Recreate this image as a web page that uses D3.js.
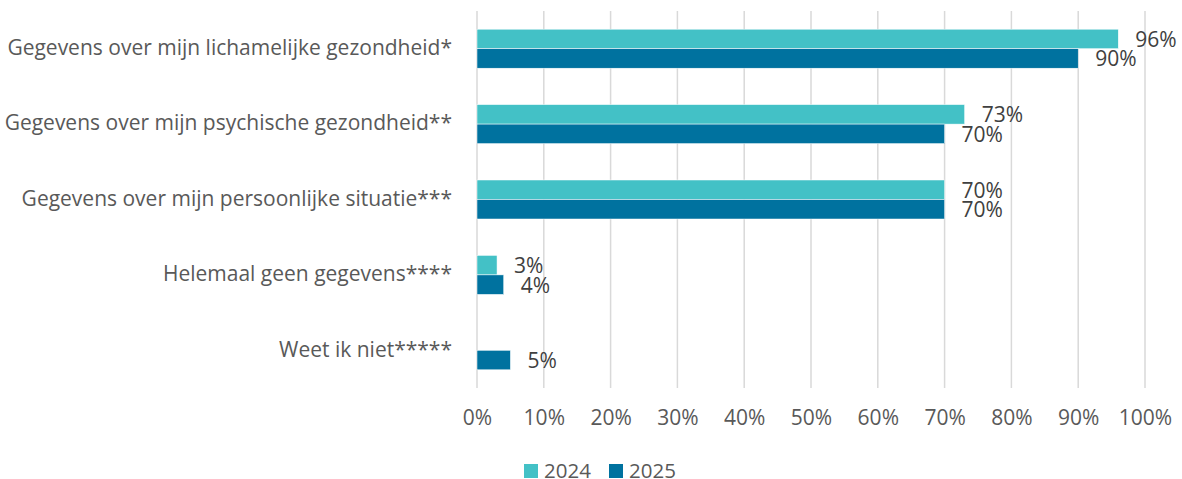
<!DOCTYPE html>
<html>
<head>
<meta charset="utf-8">
<script src="https://cdn.jsdelivr.net/npm/d3@7"></script>
<style>
  html, body { margin: 0; padding: 0; background: #fff; }
  svg { display: block; font-family: "Open Sans", sans-serif; }
</style>
</head>
<body>
<svg id="chart" width="1182" height="479"></svg>
<script>
// Categories (top to bottom) and values per year, in percent
const categories = [
  "Gegevens over mijn lichamelijke gezondheid*",
  "Gegevens over mijn psychische gezondheid**",
  "Gegevens over mijn persoonlijke situatie***",
  "Helemaal geen gegevens****",
  "Weet ik niet*****"
];
const values2024 = [96, 73, 70, 3, null];
const values2025 = [90, 70, 70, 4, 5];
const seriesNames = ["2024", "2025"];
const tickValues = [0, 10, 20, 30, 40, 50, 60, 70, 80, 90, 100];

const colors = { "2024": "#43C1C6", "2025": "#00729F" };
const textColor = "#595959";

const svg = d3.select("#chart");
const plot = { left: 477, right: 1145, top: 11, bottom: 388 };

const x = d3.scaleLinear().domain([0, 100]).range([plot.left, plot.right]);
const y = d3.scaleBand().domain(categories).range([plot.top, plot.bottom]);
const barH = 19.5;

// Vertical gridlines
svg.append("g").selectAll("line")
  .data(tickValues)
  .join("line")
  .attr("x1", d => x(d)).attr("x2", d => x(d))
  .attr("y1", plot.top).attr("y2", plot.bottom)
  .attr("stroke", "#d9d9d9").attr("stroke-width", 1.5);

// X axis tick labels
const xAxis = d3.axisBottom(x).tickValues(tickValues).tickFormat(d => d + "%").tickSize(0).tickPadding(0);
const gx = svg.append("g").attr("transform", `translate(0, 418)`).call(xAxis);
gx.select(".domain").remove();
gx.selectAll("text")
  .attr("font-size", "21px").attr("fill", textColor)
  .attr("font-family", "'Open Sans', sans-serif")
  .attr("y", 0)
  .attr("dy", "0.35em");

// Category labels
svg.append("g").selectAll("text")
  .data(categories)
  .join("text")
  .attr("x", plot.left - 25)
  .attr("y", d => y(d) + y.bandwidth() / 2 - 1)
  .attr("dy", "0.35em")
  .attr("text-anchor", "end")
  .attr("font-size", "21px")
  .attr("fill", textColor)
  .text(d => d);

// Bars and value labels
const rows = [];
categories.forEach((c, i) => {
  rows.push({ cat: c, series: "2024", value: values2024[i], offset: -barH });
  rows.push({ cat: c, series: "2025", value: values2025[i], offset: 0 });
});
const shown = rows.filter(r => r.value != null);
const center = r => y(r.cat) + y.bandwidth() / 2;

svg.append("g").selectAll("rect")
  .data(shown)
  .join("rect")
  .attr("x", x(0))
  .attr("y", r => center(r) + r.offset)
  .attr("width", r => x(r.value) - x(0))
  .attr("height", barH)
  .attr("fill", r => colors[r.series])
  .attr("stroke", "#ffffff").attr("stroke-width", 0.5);

svg.append("g").selectAll("text")
  .data(shown)
  .join("text")
  .attr("x", r => x(r.value) + 17)
  .attr("y", r => center(r) + r.offset + barH / 2 + 0.5)
  .attr("dy", "0.35em")
  .attr("font-size", "21px")
  .attr("fill", "#404040")
  .text(r => r.value + "%");

// Legend
const legend = svg.append("g").attr("transform", "translate(524, 464)");
const item = legend.selectAll("g")
  .data(seriesNames)
  .join("g")
  .attr("transform", (d, i) => `translate(${i * 85}, 0)`);
item.append("rect").attr("width", 14).attr("height", 14).attr("fill", d => colors[d]);
item.append("text")
  .attr("x", 20).attr("y", 7).attr("dy", "0.35em")
  .attr("font-size", "20.5px").attr("fill", textColor)
  .text(d => d);
</script>
</body>
</html>
